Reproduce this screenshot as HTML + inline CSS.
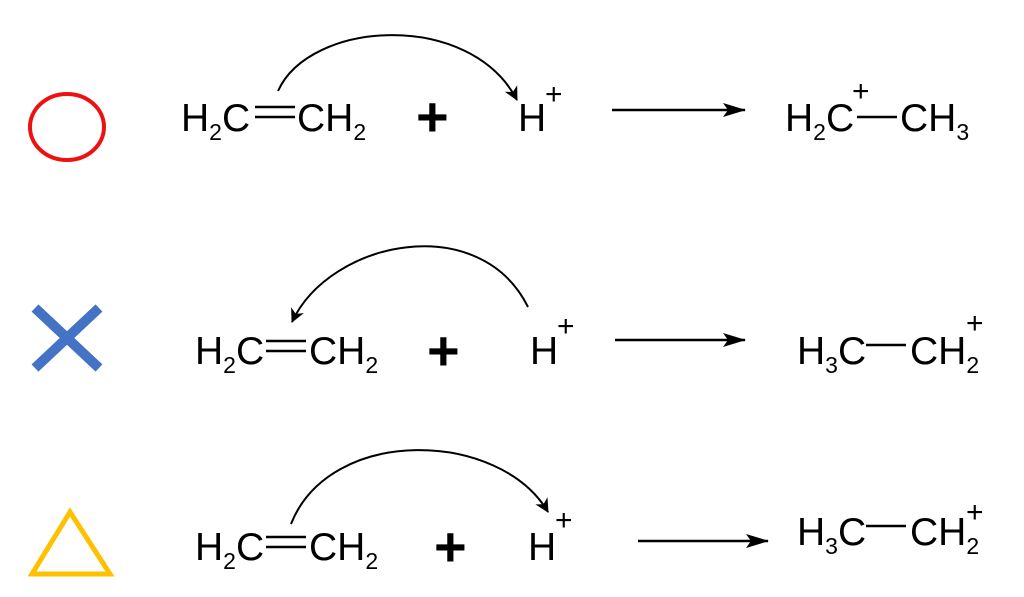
<!DOCTYPE html>
<html><head><meta charset="utf-8"><style>html,body{margin:0;padding:0;background:#fff}svg{display:block}</style></head>
<body>
<svg width="1024" height="597" viewBox="0 0 1024 597" xmlns="http://www.w3.org/2000/svg" font-family="Liberation Sans, Arial, sans-serif">
<defs>
<marker id="ah" markerWidth="16" markerHeight="16" refX="13" refY="7" orient="auto" markerUnits="userSpaceOnUse"><path d="M0,0 L14,7 L0,14 L4,7 Z" fill="#000"/></marker>
<marker id="big" markerWidth="24" markerHeight="16" refX="22" refY="7" orient="auto" markerUnits="userSpaceOnUse"><path d="M0,0 L23,7 L0,14 L5,7 Z" fill="#000"/></marker>
</defs>
<ellipse cx="67" cy="127" rx="37" ry="33" fill="none" stroke="#ee1111" stroke-width="4"/>
<line x1="35" y1="308" x2="99" y2="368" stroke="#4472c4" stroke-width="10"/>
<line x1="99" y1="308" x2="35" y2="368" stroke="#4472c4" stroke-width="10"/>
<polygon points="70,512 32,574 110,574" fill="none" stroke="#ffc000" stroke-width="5"/>
<g font-size="39" fill="#000">
<!-- Row 1 -->
<text x="181" y="131">H<tspan font-size="23" dy="9">2</tspan><tspan dy="-9">C</tspan></text>
<line x1="255" y1="107" x2="295" y2="107" stroke="#000" stroke-width="2.5"/>
<line x1="255" y1="117" x2="295" y2="117" stroke="#000" stroke-width="2.5"/>
<text x="297" y="131">CH<tspan font-size="23" dy="9">2</tspan></text>
<text x="416" y="136" font-weight="bold" font-size="56">+</text>
<text x="518" y="131">H</text><text x="545" y="104" font-size="30">+</text>
<line x1="612" y1="110" x2="745" y2="110" stroke="#000" stroke-width="2.5" marker-end="url(#big)"/>
<text x="785" y="131">H<tspan font-size="23" dy="9">2</tspan><tspan dy="-9">C</tspan></text>
<text x="852" y="101" font-size="30">+</text>
<line x1="857" y1="117" x2="897" y2="117" stroke="#000" stroke-width="2.5"/>
<text x="900" y="131">CH<tspan font-size="23" dy="9">3</tspan></text>
<path d="M278,91 C310,20 470,10 517,100" fill="none" stroke="#000" stroke-width="2" marker-end="url(#ah)"/>
<!-- Row 2 -->
<text x="195" y="364">H<tspan font-size="23" dy="9">2</tspan><tspan dy="-9">C</tspan></text>
<line x1="266" y1="341" x2="306" y2="341" stroke="#000" stroke-width="2.5"/>
<line x1="266" y1="351" x2="306" y2="351" stroke="#000" stroke-width="2.5"/>
<text x="309" y="364">CH<tspan font-size="23" dy="9">2</tspan></text>
<text x="427" y="370" font-weight="bold" font-size="56">+</text>
<text x="530" y="364">H</text><text x="557" y="336" font-size="30">+</text>
<line x1="615" y1="340" x2="745" y2="340" stroke="#000" stroke-width="2.5" marker-end="url(#big)"/>
<text x="797" y="364">H<tspan font-size="23" dy="9">3</tspan><tspan dy="-9">C</tspan></text>
<line x1="866" y1="345" x2="906" y2="345" stroke="#000" stroke-width="2.5"/>
<text x="910" y="364">CH<tspan font-size="23" dy="9">2</tspan></text>
<text x="966" y="333" font-size="30">+</text>
<path d="M528,307 C480,210 330,240 292,322" fill="none" stroke="#000" stroke-width="2" marker-end="url(#ah)"/>
<!-- Row 3 -->
<text x="195" y="560">H<tspan font-size="23" dy="9">2</tspan><tspan dy="-9">C</tspan></text>
<line x1="266" y1="537" x2="306" y2="537" stroke="#000" stroke-width="2.5"/>
<line x1="266" y1="547" x2="306" y2="547" stroke="#000" stroke-width="2.5"/>
<text x="309" y="560">CH<tspan font-size="23" dy="9">2</tspan></text>
<text x="434" y="566" font-weight="bold" font-size="56">+</text>
<text x="528" y="560">H</text><text x="555" y="530" font-size="30">+</text>
<line x1="638" y1="541" x2="768" y2="541" stroke="#000" stroke-width="2.5" marker-end="url(#big)"/>
<text x="797" y="545">H<tspan font-size="23" dy="9">3</tspan><tspan dy="-9">C</tspan></text>
<line x1="866" y1="526" x2="906" y2="526" stroke="#000" stroke-width="2.5"/>
<text x="910" y="545">CH<tspan font-size="23" dy="9">2</tspan></text>
<text x="966" y="522" font-size="30">+</text>
<path d="M291,524 C330,425 500,430 548,512" fill="none" stroke="#000" stroke-width="2" marker-end="url(#ah)"/>
</g>
</svg>
</body></html>
